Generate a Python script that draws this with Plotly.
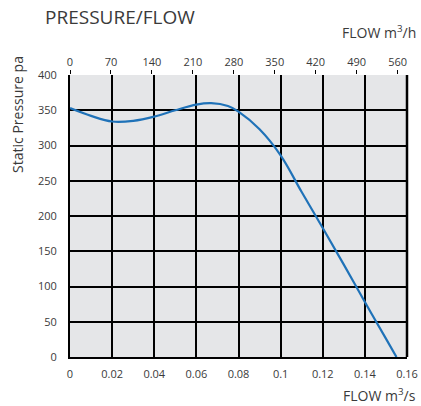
import plotly.graph_objects as go

flow_m3s = [0.0, 0.01, 0.02, 0.03, 0.04, 0.05, 0.06, 0.067, 0.075, 0.08, 0.09, 0.1, 0.11, 0.12, 0.13, 0.14, 0.15, 0.155]
pressure_pa = [353, 342, 334, 335, 341, 350, 358, 360, 356, 348, 323, 286, 234, 183, 131, 78, 26, 0]

x_ticks = [0, 0.02, 0.04, 0.06, 0.08, 0.1, 0.12, 0.14, 0.16]
x_labels = ["0", "0.02", "0.04", "0.06", "0.08", "0.1", "0.12", "0.14", "0.16"]
top_ticks = [0, 70, 140, 210, 280, 350, 420, 490, 560]
y_ticks = [0, 50, 100, 150, 200, 250, 300, 350, 400]

FONT = "Open Sans"
TXT = "#3a3a3a"

fig = go.Figure()
fig.add_trace(go.Scatter(
    x=flow_m3s, y=pressure_pa, mode="lines",
    line=dict(color="#1f72b8", width=2.2, shape="spline", smoothing=1.0),
    hoverinfo="skip", showlegend=False,
))
fig.add_trace(go.Scatter(
    x=[v * 3600 for v in flow_m3s], y=pressure_pa, mode="lines",
    xaxis="x2", line=dict(width=0, color="rgba(0,0,0,0)"),
    hoverinfo="skip", showlegend=False,
))

fig.update_layout(
    width=421, height=406,
    margin=dict(l=70, r=14, t=75, b=49, autoexpand=False),
    paper_bgcolor="white",
    plot_bgcolor="#e5e6e8",
    font=dict(family=FONT, size=11, color=TXT),
    xaxis=dict(
        range=[0, 0.16], tickvals=x_ticks, ticktext=x_labels,
        showgrid=True, gridcolor="black", gridwidth=1.5,
        showline=True, linecolor="black", linewidth=2, mirror=False,
        zeroline=False, ticks="", ticklen=0, automargin=False,
        ticklabelstandoff=6,
        tickfont=dict(size=11, color=TXT, family=FONT),
    ),
    xaxis2=dict(
        range=[0, 576], tickvals=top_ticks, overlaying="x", side="top",
        showgrid=False, zeroline=False, showline=False, automargin=False,
        ticks="outside", ticklen=4, tickcolor="black", tickwidth=1,
        tickfont=dict(size=11, color=TXT, family=FONT),
    ),
    yaxis=dict(
        range=[0, 400], tickvals=y_ticks,
        showgrid=True, gridcolor="black", gridwidth=1.5,
        showline=True, linecolor="black", linewidth=2, mirror=False,
        zeroline=False, ticks="", ticklen=0, automargin=False,
        ticklabelstandoff=9,
        tickfont=dict(size=11, color=TXT, family=FONT),
    ),
    shapes=[
        dict(type="line", xref="paper", yref="paper", x0=1, x1=1, y0=0, y1=1,
             line=dict(color="black", width=2.5)),
    ],
    annotations=[
        dict(text="PRESSURE/FLOW", xref="paper", yref="paper", x=-0.08, y=1.205,
             xanchor="left", yanchor="middle", showarrow=False,
             font=dict(size=19, color=TXT, family=FONT)),
        dict(text="FLOW m<sup>3</sup>/h", xref="paper", yref="paper", x=1.033, y=1.152,
             xanchor="right", yanchor="middle", showarrow=False,
             font=dict(size=14, color=TXT, family=FONT)),
        dict(text="FLOW m<sup>3</sup>/s", xref="paper", yref="paper", x=1.033, y=-0.135,
             xanchor="right", yanchor="middle", showarrow=False,
             font=dict(size=14, color=TXT, family=FONT)),
        dict(text="Static Pressure pa", xref="paper", yref="paper", x=-0.156, y=0.86,
             xanchor="center", yanchor="middle", textangle=-90, showarrow=False,
             font=dict(size=14, color=TXT, family=FONT)),
    ],
)

fig.write_html("out.html", config={"displayModeBar": False},
               post_script="document.body.style.margin='0';document.body.style.overflow='hidden';")
